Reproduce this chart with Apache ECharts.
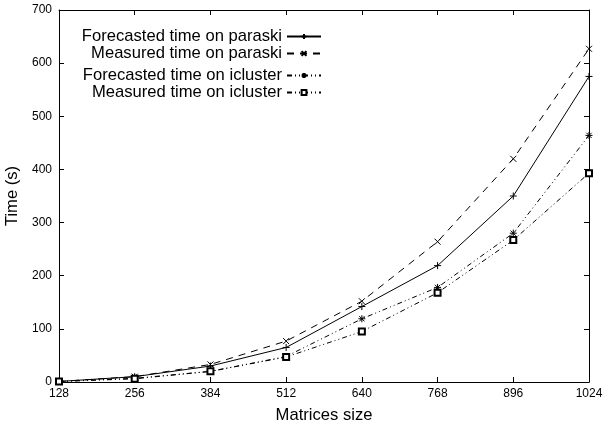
<!DOCTYPE html>
<html>
<head>
<meta charset="utf-8">
<script src="https://cdn.jsdelivr.net/npm/echarts@6/dist/echarts.min.js"></script>
<style>
  html, body { margin: 0; padding: 0; background: #fff; }
  #chart { width: 603px; height: 424px; }
</style>
</head>
<body>
<div id="chart"></div>
<script>
var sizes = [128, 256, 384, 512, 640, 768, 896, 1024];
var forecastParaski = [1, 10, 30, 65, 142, 219, 350, 575];
var measuredParaski = [1, 10, 33, 77, 152, 264, 420, 627];
var forecastIcluster = [1, 7, 20, 48, 119, 178, 280, 464];
var measuredIcluster = [1, 6, 20, 47, 95, 168, 267, 393];

var FONT = '"Liberation Sans", Arial, sans-serif';
var PLUS = 'path://M0,4L8,4M4,0L4,8';
var CROSS = 'path://M0,0L8,8M8,0L0,8';
var STAR = 'path://M0,4L8,4M4,0L4,8M1,1L7,7M7,1L1,7';

function pairs(ys) {
    return sizes.map(function (x, i) { return [x, ys[i]]; });
}

function lineSeries(name, ys, symbol, size, dash) {
    return {
        name: name,
        type: 'line',
        data: pairs(ys),
        symbol: symbol,
        symbolSize: size,
        showAllSymbol: true,
        animation: false,
        lineStyle: { color: '#000', width: 1, type: dash },
        itemStyle: { color: '#000', borderColor: '#000', borderWidth: 1 }
    };
}

var chart = echarts.init(document.getElementById('chart'));

var legendBase = {
    orient: 'vertical',
    align: 'right',
    right: 281,
    padding: 0,
    itemGap: 0,
    itemWidth: 34,
    itemHeight: 6,
    selectedMode: false
};
var legendText = { fontFamily: FONT, fontSize: 16.6, color: '#000' };

var axisBase = {
    type: 'value',
    axisLine: { show: true, onZero: false, lineStyle: { color: '#000', width: 1 } },
    axisTick: { show: true, inside: true, length: 5, lineStyle: { color: '#000' } },
    splitLine: { show: false }
};

chart.setOption({
    backgroundColor: '#fff',
    textStyle: { fontFamily: FONT },
    legend: [
        Object.assign({}, legendBase, {
            top: 28,
            textStyle: Object.assign({ lineHeight: 17 }, legendText),
            data: ['Forecasted time on paraski', 'Measured time on paraski']
        }),
        Object.assign({}, legendBase, {
            top: 67,
            textStyle: Object.assign({ lineHeight: 15.5 }, legendText),
            data: ['Forecasted time on icluster', 'Measured time on icluster']
        })
    ],
    grid: { left: 59, right: 14, top: 10, bottom: 42, containLabel: false, outerBoundsMode: 'none' },
    xAxis: [
        Object.assign({}, axisBase, {
            min: 128, max: 1024, interval: 128, position: 'bottom',
            name: 'Matrices size', nameLocation: 'middle', nameGap: 25,
            nameTextStyle: { fontFamily: FONT, fontSize: 16.6, color: '#000' },
            axisLabel: { fontFamily: FONT, fontSize: 12, color: '#000', margin: 6,
                formatter: function (v) { return String(v); } }
        }),
        Object.assign({}, axisBase, {
            min: 128, max: 1024, interval: 128, position: 'top',
            axisLabel: { show: false }
        })
    ],
    yAxis: [
        Object.assign({}, axisBase, {
            min: 0, max: 700, interval: 100, position: 'left',
            name: 'Time (s)', nameLocation: 'middle', nameGap: 32,
            nameTextStyle: { fontFamily: FONT, fontSize: 16.6, color: '#000' },
            axisLabel: { fontFamily: FONT, fontSize: 12, color: '#000', margin: 7 }
        }),
        Object.assign({}, axisBase, {
            min: 0, max: 700, interval: 100, position: 'right',
            axisLabel: { show: false }
        })
    ],
    series: [
        lineSeries('Forecasted time on paraski', forecastParaski, PLUS, 7, 'solid'),
        lineSeries('Measured time on paraski', measuredParaski, CROSS, 6, [7, 6]),
        lineSeries('Forecasted time on icluster', forecastIcluster, STAR, 7, [5, 3, 1, 3, 1, 3]),
        lineSeries('Measured time on icluster', measuredIcluster, 'emptyRect', 6, [5, 3, 1, 3, 1, 3])
    ]
});
</script>
</body>
</html>
